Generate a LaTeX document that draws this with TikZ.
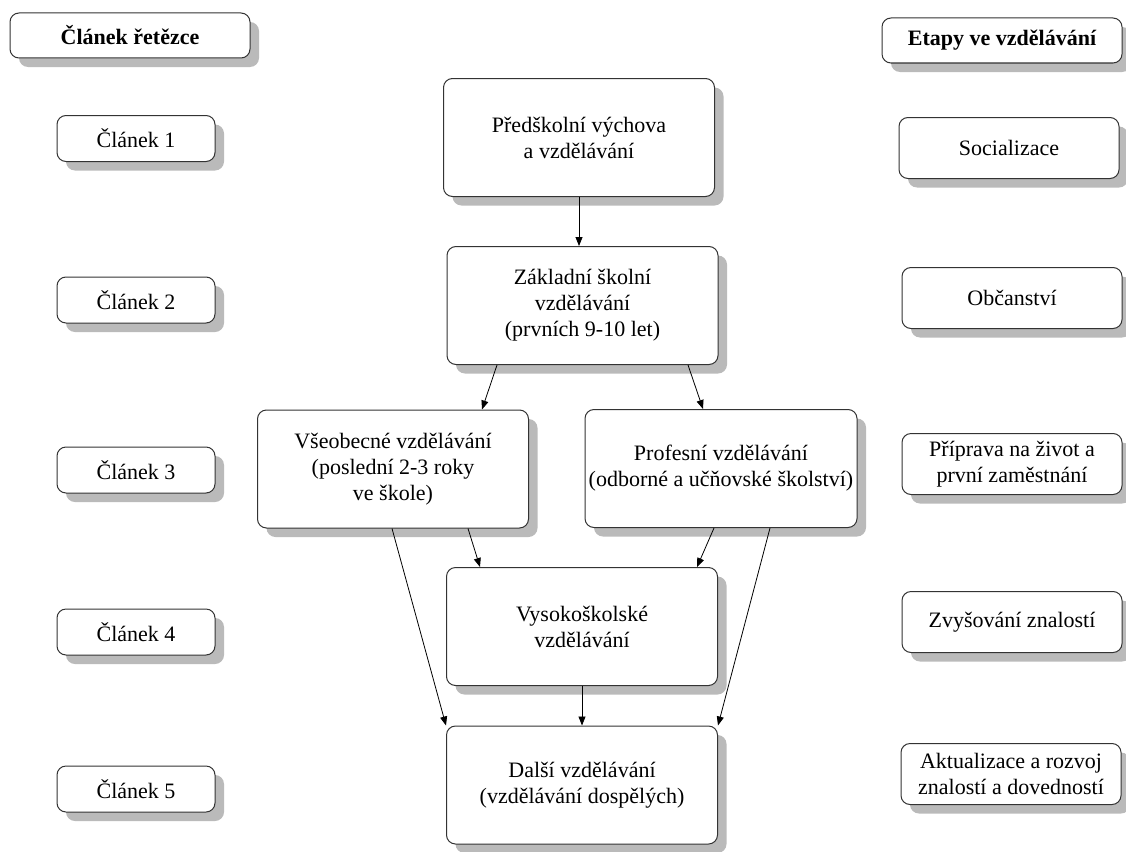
\documentclass[tikz,border=0pt]{standalone}
\usepackage{fontspec}
\setmainfont{Liberation Serif}
\usetikzlibrary{shadows,arrows.meta}
\begin{document}
\begin{tikzpicture}[x=1pt,y=-1pt,
  box/.style={draw=black!80, line width=1pt, rounded corners=9pt, fill=white, align=center,
    inner sep=0pt, font=\fontsize{22}{26}\selectfont,
    drop shadow={shadow xshift=9pt, shadow yshift=-9pt, fill=black!27, opacity=1}},
  lbox/.style={box, minimum width=158pt, minimum height=46pt},
  rbox/.style={box, minimum width=220pt, minimum height=61pt},
  cbox/.style={box, minimum width=271pt, minimum height=118pt},
  tbox/.style={box, minimum width=240pt, minimum height=45pt, font=\fontsize{22}{26}\selectfont\bfseries},
  arr/.style={-{Triangle[length=9pt,width=7pt]}, line width=0.8pt, black}]
\useasboundingbox (0,0) rectangle (1126,851);
\fill[white] (0,0) rectangle (1126,851);
\clip (0,0) rectangle (1126,851);
% titles
\node[tbox] (t1) at (130,35.5) {Článek řetězce};
\node[tbox] (t2) at (1002,40.5) {Etapy ve vzdělávání};
% left column
\node[lbox] (l1) at (136,138.5) {Článek 1};
\node[lbox] (l2) at (136,300) {Článek 2};
\node[lbox] (l3) at (136,470) {Článek 3};
\node[lbox] (l4) at (136,632) {Článek 4};
\node[lbox] (l5) at (136,789) {Článek 5};
% right column
\node[rbox] (r1) at (1009,148) {Socializace};
\node[rbox] (r2) at (1012,298) {Občanství};
\node[rbox] (r3) at (1012,464) {Příprava na život a\\první zaměstnání};
\node[rbox] (r4) at (1012,622) {Zvyšování znalostí};
\node[rbox] (r5) at (1011,774) {Aktualizace a rozvoj\\znalostí a dovedností};
% center
\node[cbox] (p1) at (579,137.5) {Předškolní výchova\\a vzdělávání};
\node[cbox] (p2) at (582.5,305.5) {Základní školní\\vzdělávání\\(prvních 9-10 let)};
\node[cbox] (p3) at (393,469) {Všeobecné vzdělávání\\(poslední 2-3 roky\\ve škole)};
\node[cbox, minimum width=272pt] (p4) at (721,468.5) {Profesní vzdělávání\\(odborné a učňovské školství)};
\node[cbox] (p5) at (582,626.5) {Vysokoškolské\\vzdělávání};
\node[cbox] (p6) at (582,785) {Další vzdělávání\\(vzdělávání dospělých)};
% arrows
\draw[arr] (p1.south) -- (p1.south |- p2.north);
\draw[arr] ([xshift=-85.5pt]p2.south) -- ([xshift=89pt]p3.north);
\draw[arr] ([xshift=105.5pt]p2.south) -- ([xshift=-18pt]p4.north);
\draw[arr] ([xshift=-1pt]p3.south) -- (p6.north west);
\draw[arr] ([xshift=75pt]p3.south) -- ([xshift=-102pt]p5.north);
\draw[arr] ([xshift=-7pt]p4.south) -- ([xshift=115pt]p5.north);
\draw[arr] ([xshift=49pt]p4.south) -- (p6.north east);
\draw[arr] (p5.south) -- (p6.north);
\end{tikzpicture}
\end{document}
